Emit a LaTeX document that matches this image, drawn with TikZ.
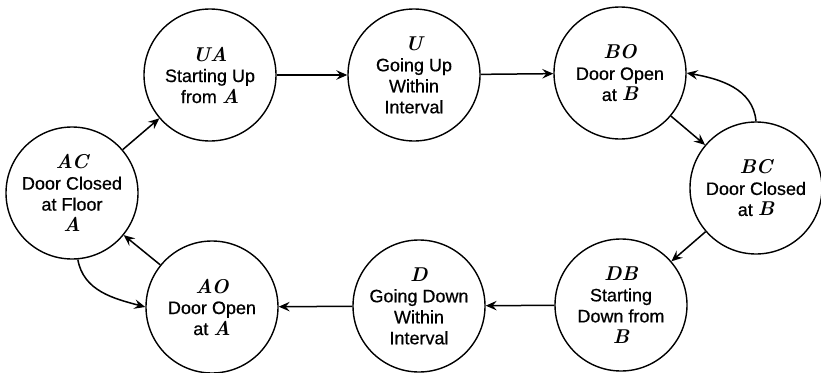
\documentclass[tikz,border=0pt]{standalone}
\usepackage{fontspec}
\setmainfont{Liberation Sans}[FakeBold=0.6]
\newfontfamily\letfont{Latin Modern Roman}
\usetikzlibrary{arrows.meta}
% state symbols are set in bold italic serif
\newcommand\stname[1]{{\letfont\fontsize{20}{21}\selectfont\bfseries\itshape #1}}
\begin{document}
\begin{tikzpicture}[x=1pt,y=1pt,
  state/.style={circle, draw, line width=1.4pt, minimum size=132pt,
    inner sep=0pt, align=center, font=\fontsize{18}{21}\selectfont},
  trans/.style={line width=1.5pt,
    -{Stealth[length=11pt,width=9.5pt,inset=4pt]}},
]
\useasboundingbox (0,0) rectangle (821,-372);

% states of the elevator
\node[state] (AC) at (72,-193)  {\stname{AC}\\Door Closed\\at Floor\\\stname{A}};
\node[state] (UA) at (210,-75)  {\stname{UA}\\Starting Up\\from \stname{A}};
\node[state] (U)  at (414,-75)  {\stname{U}\\Going Up\\Within\\Interval};
\node[state] (BO) at (620,-73)  {\stname{BO}\\Door Open\\at \stname{B}};
\node[state] (BC) at (756,-188) {\stname{BC}\\Door Closed\\at \stname{B}};
\node[state] (DB) at (621,-305) {\stname{DB}\\Starting\\Down from\\\stname{B}};
\node[state] (D)  at (419,-306) {\stname{D}\\Going Down\\Within\\Interval};
\node[state] (AO) at (212,-307) {\stname{AO}\\Door Open\\at \stname{A}};

% transitions
\draw[trans] (AC) -- (UA);
\draw[trans] (UA) -- (U);
\draw[trans] (U) -- (BO);
\draw[trans] (BO) -- (BC);
\draw[trans] (BC.north) to[out=95,in=-10] (BO.east);
\draw[trans] (BC) -- (DB);
\draw[trans] (DB) -- (D);
\draw[trans] (D) -- (AO);
\draw[trans] (AO) -- (AC);
\draw[trans] (AC.-85) to[out=-80,in=165] (AO.west);
\end{tikzpicture}
\end{document}
